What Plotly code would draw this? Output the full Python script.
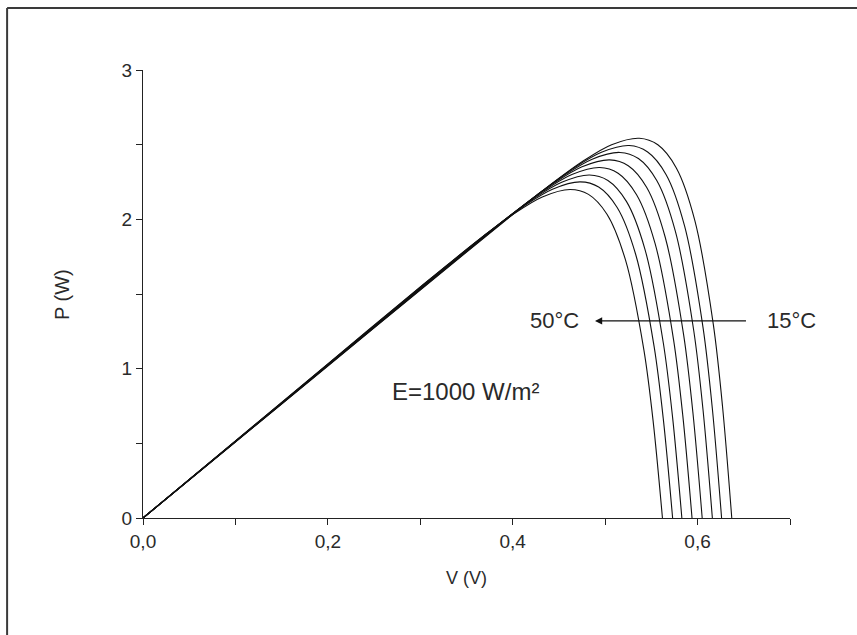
import plotly.graph_objects as go

temps_c = [15, 20, 25, 30, 35, 40, 45, 50]

v_15 = [0, 0.1, 0.2, 0.3, 0.397, 0.437, 0.477, 0.507, 0.537, 0.557, 0.577, 0.597, 0.617, 0.627, 0.637]
p_15 = [0, 0.509, 1.018, 1.527, 2.017, 2.214, 2.394, 2.500, 2.543, 2.499, 2.344, 1.993, 1.298, 0.747, 0]
v_20 = [0, 0.1, 0.2, 0.3, 0.386, 0.426, 0.466, 0.496, 0.526, 0.546, 0.566, 0.586, 0.606, 0.616, 0.626]
p_20 = [0, 0.510, 1.020, 1.530, 1.965, 2.162, 2.343, 2.449, 2.494, 2.451, 2.299, 1.954, 1.272, 0.732, 0]
v_25 = [0, 0.1, 0.2, 0.3, 0.376, 0.416, 0.456, 0.486, 0.516, 0.536, 0.556, 0.576, 0.596, 0.606, 0.616]
p_25 = [0, 0.511, 1.022, 1.533, 1.918, 2.115, 2.296, 2.403, 2.448, 2.407, 2.258, 1.919, 1.249, 0.718, 0]
v_30 = [0, 0.1, 0.2, 0.3, 0.365, 0.405, 0.445, 0.475, 0.505, 0.525, 0.545, 0.565, 0.585, 0.595, 0.605]
p_30 = [0, 0.512, 1.024, 1.536, 1.865, 2.063, 2.244, 2.352, 2.398, 2.359, 2.213, 1.880, 1.223, 0.703, 0]
v_35 = [0, 0.1, 0.2, 0.3, 0.354, 0.394, 0.434, 0.464, 0.494, 0.514, 0.534, 0.554, 0.574, 0.584, 0.594]
p_35 = [0, 0.513, 1.026, 1.539, 1.813, 2.010, 2.192, 2.300, 2.347, 2.309, 2.165, 1.839, 1.195, 0.687, 0]
v_40 = [0, 0.1, 0.2, 0.3, 0.343, 0.383, 0.423, 0.453, 0.483, 0.503, 0.523, 0.543, 0.563, 0.573, 0.583]
p_40 = [0, 0.514, 1.028, 1.542, 1.760, 1.958, 2.140, 2.248, 2.297, 2.260, 2.120, 1.801, 1.170, 0.672, 0]
v_45 = [0, 0.1, 0.2, 0.3, 0.333, 0.373, 0.413, 0.443, 0.473, 0.493, 0.513, 0.533, 0.553, 0.563, 0.573]
p_45 = [0, 0.515, 1.030, 1.545, 1.712, 1.910, 2.093, 2.202, 2.251, 2.216, 2.079, 1.766, 1.147, 0.659, 0]
v_50 = [0, 0.1, 0.2, 0.3, 0.322, 0.362, 0.402, 0.432, 0.462, 0.482, 0.502, 0.522, 0.542, 0.552, 0.562]
p_50 = [0, 0.516, 1.032, 1.548, 1.658, 1.857, 2.040, 2.150, 2.200, 2.167, 2.034, 1.728, 1.122, 0.644, 0]

x_ticks = [0.0, 0.2, 0.4, 0.6]
y_ticks = [0, 1, 2, 3]

curves = [(v_15, p_15), (v_20, p_20), (v_25, p_25), (v_30, p_30),
          (v_35, p_35), (v_40, p_40), (v_45, p_45), (v_50, p_50)]

FONT = "Arial, Liberation Sans, sans-serif"
TXT = "#2a2a2a"

fig = go.Figure()
for t, (v, p) in zip(temps_c, curves):
    fig.add_trace(go.Scatter(
        x=v, y=p, mode="lines", name=f"{t}°C",
        line=dict(color="#111111", width=1.1, shape="spline", smoothing=0.9),
        showlegend=False, hoverinfo="skip",
    ))

axis_common = dict(
    showline=True, linecolor="#222222", linewidth=1.2,
    ticks="outside", ticklen=6, tickwidth=1.2, tickcolor="#222222",
    showgrid=False, zeroline=False,
    tickfont=dict(family=FONT, size=19, color=TXT),
)

fig.update_xaxes(
    range=[0, 0.7], tickvals=x_ticks, tickformat=".1f",
    minor=dict(ticks="outside", ticklen=6, tickwidth=1.2, tickcolor="#222222", dtick=0.1, tick0=0, showgrid=False),
    **axis_common,
)
fig.update_yaxes(
    range=[0, 3], tickvals=y_ticks, tickformat="d",
    minor=dict(ticks="outside", ticklen=6, tickwidth=1.2, tickcolor="#222222", dtick=0.5, tick0=0, showgrid=False),
    **axis_common,
)

W, H = 857, 635
ml, mr, mt, mb = 143, 66.5, 70, 117
pw, ph = W - ml - mr, H - mt - mb
fx = lambda px: (px - ml) / pw
fy = lambda py: (H - mb - py) / ph

annotations = [
    dict(text="V (V)", x=fx(467), y=fy(578), xref="paper", yref="paper",
         xanchor="center", yanchor="middle",
         showarrow=False, font=dict(family=FONT, size=18, color=TXT)),
    dict(text="P (W)", x=fx(62), y=fy(295), xref="paper", yref="paper",
         xanchor="center", yanchor="middle",
         showarrow=False, textangle=-90, font=dict(family=FONT, size=20, color=TXT)),
    dict(text="E=1000 W/m²", x=0.349, y=0.85, xref="x", yref="y",
         xanchor="center", yanchor="middle",
         showarrow=False, font=dict(family=FONT, size=24, color=TXT)),
    dict(text="50°C", x=0.445, y=1.32, xref="x", yref="y",
         xanchor="center", yanchor="middle",
         showarrow=False, font=dict(family=FONT, size=22, color=TXT)),
    dict(text="15°C", x=fx(792), y=1.32, xref="paper", yref="y",
         xanchor="center", yanchor="middle",
         showarrow=False, font=dict(family=FONT, size=22, color=TXT)),
    dict(text="", x=0.489, y=1.32, ax=0.654, ay=1.32, xref="x", yref="y", axref="x", ayref="y",
         showarrow=True, arrowhead=2, arrowsize=1.2, arrowwidth=1.2, arrowcolor="#111111"),
]

shapes = [
    dict(type="line", xref="paper", yref="paper", x0=fx(7), x1=fx(W + 5), y0=fy(8), y1=fy(8),
         line=dict(color="#3a3a3a", width=2)),
    dict(type="line", xref="paper", yref="paper", x0=fx(7), x1=fx(7), y0=fy(8), y1=fy(H + 5),
         line=dict(color="#3a3a3a", width=2)),
]

fig.update_layout(
    width=W, height=H,
    margin=dict(l=ml, r=mr, t=mt, b=mb),
    paper_bgcolor="white", plot_bgcolor="white",
    separators=",.",
    annotations=annotations, shapes=shapes,
    font=dict(family=FONT, color=TXT),
)

fig.write_html("out.html")
